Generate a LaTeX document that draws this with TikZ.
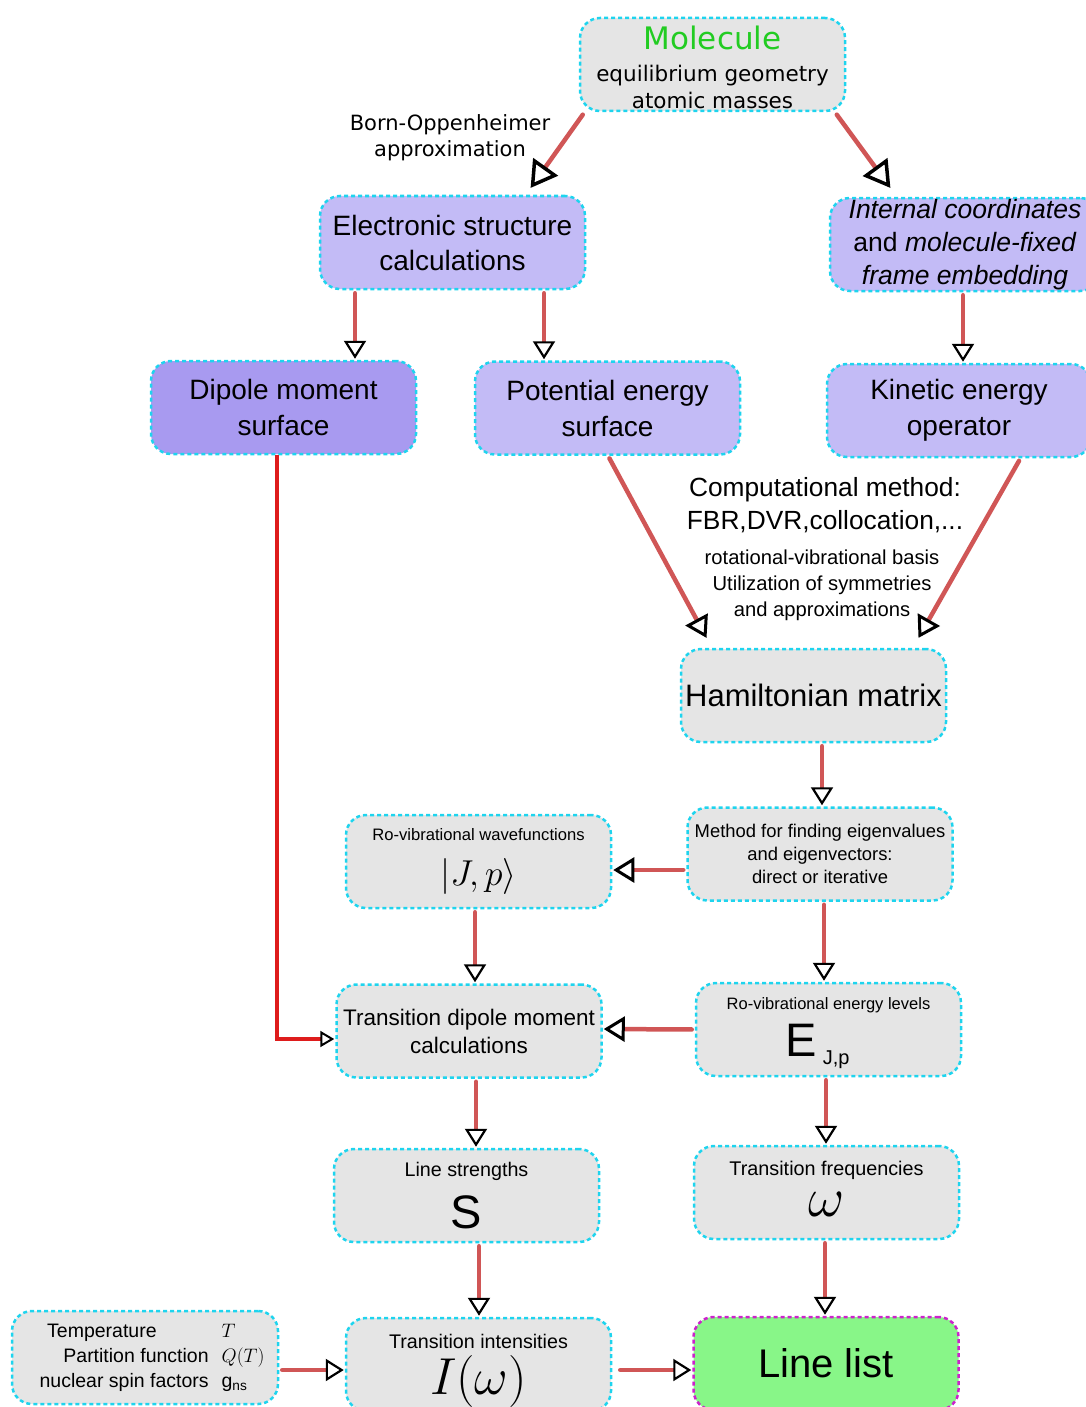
\RequirePackage{fix-cm}
\documentclass[tikz,border=0pt]{standalone}
\usepackage[no-math]{fontspec}
\setmainfont{Liberation Sans}
\newfontfamily\dejavu{DejaVu Sans}
\usetikzlibrary{arrows.meta}
\definecolor{boxgray}{RGB}{229,229,229}
\definecolor{lilac}{RGB}{195,187,246}
\definecolor{dipviolet}{RGB}{168,154,240}
\definecolor{lgreen}{RGB}{136,246,136}
\definecolor{dashcyan}{RGB}{30,212,238}
\definecolor{dashmag}{RGB}{204,34,204}
\definecolor{arrred}{RGB}{208,86,86}
\definecolor{dipred}{RGB}{222,28,28}
\definecolor{molgreen}{RGB}{34,204,34}
\newcommand\fsz[2]{\fontsize{#1}{#2}\selectfont}
\tikzset{box/.style={draw=dashcyan, line width=2.5pt, dash pattern=on 4pt off 3pt, rounded corners=20pt, fill=boxgray, minimum width=265pt, minimum height=93pt, inner xsep=2pt, inner ysep=0pt, align=center},
  purplebox/.style={box, fill=lilac},
  flow/.style={draw=arrred, line width=4.5pt, line cap=round, shorten <=3pt, shorten >=1pt, -{Triangle[length=18pt,width=22pt,line width=2.2pt,color=black,fill=white]}},
  midflow/.style={flow, -{Triangle[length=21pt,width=25pt,line width=3pt,color=black,fill=white]}},
  bigflow/.style={flow, -{Triangle[length=26pt,width=30pt,line width=3.5pt,color=black,fill=white]}},
  dipflow/.style={draw=dipred, line width=3.2pt, shorten >=1pt, -{Triangle[length=14pt,width=16pt,line width=2pt,color=black,fill=white]}}}

\begin{document}
\begin{tikzpicture}[x=1pt, y=-1pt]
   \useasboundingbox (0,0) rectangle (1086,1407);
   \node[box, font=\dejavu\fsz{21.5}{27}] (mol) at (712.5,64.5) {{\fsz{31}{31}\color{molgreen}\rule{0pt}{30pt}Molecule}\\[5pt]equilibrium geometry\\atomic masses};
   \node[purplebox, font=\fsz{28}{35}] (elec) at (452.5,242.5) {Electronic structure\\calculations};
   \node[purplebox, minimum width=270pt, font=\fsz{26.5}{33}] (intc) at (965,244.5) {\textit{Internal coordinates}\\and \textit{molecule-fixed}\\\textit{frame embedding}};
   \node[box, fill=dipviolet, font=\fsz{28}{36}] (dip) at (283.5,407.5) {Dipole moment\\surface};
   \node[purplebox, font=\fsz{28}{36}] (pes) at (607.5,408) {Potential energy\\surface};
   \node[purplebox, minimum width=264pt, font=\fsz{28}{36}] (keo) at (959,410.5) {Kinetic energy\\operator};
   \node[box, font=\fsz{31}{36}] (ham) at (813.5,695.5) {Hamiltonian matrix};
   \node[box, font=\fsz{18.4}{23}] (meth) at (820,854) {Method for finding eigenvalues\\and eigenvectors:\\direct or iterative};
   \node[box, font=\fsz{16.6}{20}] (wfn) at (478.5,861.5) {Ro-vibrational wavefunctions\\[16pt]{\fsz{36}{40}$|J,p\rangle$}};
   \node[box, font=\fsz{22.5}{28}] (tdm) at (469,1031) {Transition dipole moment\\calculations};
   \node[box, font=\fsz{16.5}{20}] (elev) at (828.5,1029.5) {Ro-vibrational energy levels\\[11pt]{\fsz{47}{47}E\hspace{6pt}\raisebox{-8pt}[0pt][0pt]{\fsz{20}{20}J,p}\hspace{22pt}\rule[-5pt]{0pt}{5pt}}};
   \node[box, font=\fsz{19.7}{24}] (ls) at (466.5,1195.5) {Line strengths\\[14pt]{\fsz{47}{47}S}};
   \node[box, font=\fsz{19.8}{24}] (tf) at (826.5,1192.5) {Transition frequencies\\[12pt]{\fsz{56}{50}$\omega$\rule[-8pt]{0pt}{8pt}}};
   \node[box, minimum width=266pt, font=\fsz{19.5}{25}] (temp) at (145,1357.5) {\hspace{14pt}\begin{tabular}{@{}r@{\hspace{13pt}}l@{}}
      Temperature\hspace{52pt} & $T$\\
      Partition function & $Q(T)$\\
      nuclear spin factors & g\textsubscript{ns}
     \end{tabular}};
   \node[box, font=\fsz{19.7}{24}] (ti) at (478.5,1364.5) {Transition intensities\\[6pt]{\fsz{52}{52}\raisebox{0pt}[\height][0pt]{$I(\omega)$}}};
   \node[box, draw=dashmag, fill=lgreen, font=\fsz{40}{44}] (ll) at (826,1363.5) {Line list};
   \node[font=\dejavu\fsz{21}{26}, align=center] (bo) at (450,138) {Born-Oppenheimer\\approximation};
   \node[font=\fsz{26.3}{33}, align=center] (cm) at (825,505) {Computational method:\\FBR,DVR,collocation,...};
   \node[font=\fsz{20.2}{26}, align=center] (basis) at (822,585) {rotational-vibrational basis\\Utilization of symmetries\\and approximations};
   \draw[bigflow] ([xshift=-128pt]mol.south) -- ([xshift=77.5pt,yshift=6pt]elec.north);
   \draw[bigflow] ([xshift=122.5pt]mol.south) -- ([xshift=-74pt,yshift=8pt]intc.north);
   \draw[flow] ([xshift=91.5pt]elec.south) -- ([xshift=-63.5pt]pes.north);
   \draw[flow] ([xshift=-97.5pt]elec.south) -- ([xshift=71.5pt]dip.north);
   \draw[flow] ([xshift=-2pt]intc.south) -- ([xshift=4pt]keo.north);
   \draw[midflow] ([xshift=0.5pt]pes.south) -- ([xshift=-106.5pt,yshift=9pt]ham.north);
   \draw[midflow] ([xshift=61.5pt]keo.south) -- ([xshift=104.5pt,yshift=9pt]ham.north);
   \draw[flow] ([xshift=8.5pt]ham.south) -- ([xshift=2pt]meth.north);
   \draw[midflow] ([yshift=-16pt]meth.west) -- ([yshift=-8.5pt]wfn.east);
   \draw[flow] ([xshift=4pt]meth.south) -- ([xshift=-4.5pt]elev.north);
   \draw[flow] ([xshift=-3.5pt]wfn.south) -- ([xshift=6pt]tdm.north);
   \draw[midflow] (elev.west) -- ([yshift=2pt]tdm.east);
   \draw[dipflow] ([xshift=-6.5pt]dip.south) |- ([yshift=-8pt]tdm.west);
   \draw[flow] ([xshift=7pt]tdm.south) -- ([xshift=9.5pt]ls.north);
   \draw[flow] ([xshift=-2.5pt]elev.south) -- ([xshift=-0.5pt]tf.north);
   \draw[flow] ([xshift=12.5pt]ls.south) -- ([xshift=0.5pt]ti.north);
   \draw[flow] ([xshift=-1.5pt]tf.south) -- ([xshift=-1pt]ll.north);
   \draw[flow] ([yshift=-12.5pt]temp.east) -- ([yshift=-5.5pt]ti.west);
   \draw[flow, shorten <=8pt] ([yshift=-5.5pt]ti.east) -- ([yshift=-6.5pt]ll.west);
\end{tikzpicture}
\end{document}
